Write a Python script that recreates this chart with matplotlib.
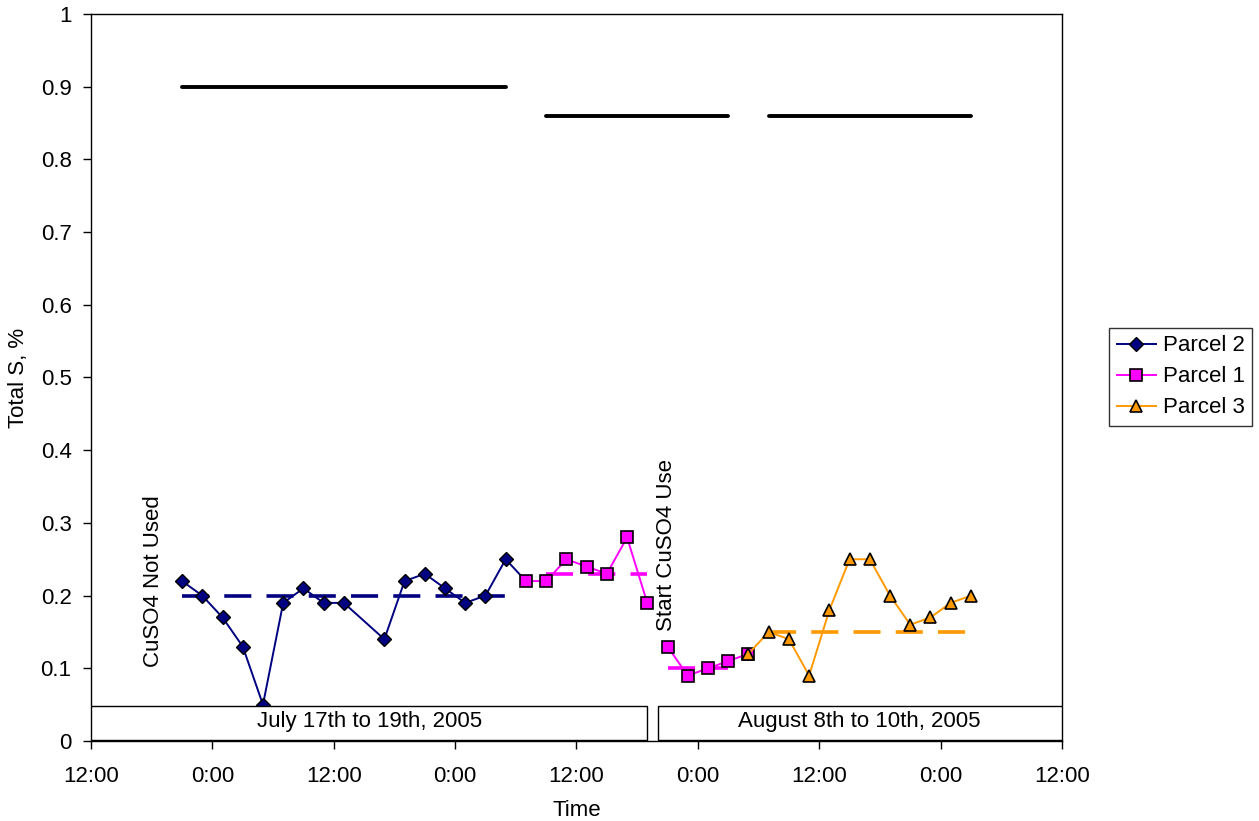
import numpy as np
import matplotlib
matplotlib.use("Agg")
import matplotlib.pyplot as plt
from matplotlib.patches import Rectangle

plt.rcParams['font.family'] = ['Liberation Sans', 'DejaVu Sans']

# hours counted from the first 12:00 on the axis
p2_hours = [9, 11, 13, 15, 17, 19, 21, 23, 25, 29, 31, 33, 35, 37, 39, 41, 43]
p2_vals = [0.22, 0.20, 0.17, 0.13, 0.05, 0.19, 0.21, 0.19, 0.19, 0.14,
           0.22, 0.23, 0.21, 0.19, 0.20, 0.25, 0.22]

p1_hours = [43, 45, 47, 49, 51, 53, 55, np.nan, 57, 59, 61, 63, 65]
p1_vals = [0.22, 0.22, 0.25, 0.24, 0.23, 0.28, 0.19, np.nan,
           0.13, 0.09, 0.10, 0.11, 0.12]

p3_hours = [65, 67, 69, 71, 73, 75, 77, 79, 81, 83, 85, 87]
p3_vals = [0.12, 0.15, 0.14, 0.09, 0.18, 0.25, 0.25, 0.20, 0.16, 0.17, 0.19, 0.20]

# mean lines (start, end, value)
p2_mean = (9, 41, 0.20)
p1_means = [(45, 55, 0.23), (57, 63, 0.10)]
p3_mean = (67, 87, 0.15)
# limit lines
limits = [(9, 41, 0.90), (45, 63, 0.86), (67, 87, 0.86)]

tick_hours = list(range(0, 97, 12))
tick_labels = ["12:00", "0:00"] * 4 + ["12:00"]

navy = "#000080"
magenta = "#FF00FF"
orange = "#FF9900"

fig = plt.figure(figsize=(12.59, 8.21), dpi=100)
ax = fig.add_axes([0.0723, 0.0974, 0.7712, 0.8856])

for x0, x1, v in limits:
    ax.plot([x0, x1], [v, v], color="black", lw=2.8, solid_capstyle="round")

ax.plot([p2_mean[0], p2_mean[1]], [p2_mean[2]] * 2, color=navy, lw=2.6,
        linestyle=(0, (7.5, 4.2)))
for x0, x1, v in p1_means:
    ax.plot([x0, x1], [v, v], color=magenta, lw=2.6, linestyle=(0, (7.5, 4.2)))
ax.plot([p3_mean[0], p3_mean[1]], [p3_mean[2]] * 2, color=orange, lw=2.6,
        linestyle=(0, (7.5, 4.2)))

ax.plot(p2_hours, p2_vals, color=navy, lw=1.4, marker="D", ms=7,
        mfc=navy, mec="black", mew=1.0, label="Parcel 2", zorder=4,
        markevery=list(range(len(p2_hours) - 1)))
ax.plot(p1_hours, p1_vals, color=magenta, lw=1.4, marker="s", ms=8,
        mfc=magenta, mec="black", mew=1.2, label="Parcel 1", zorder=4)
ax.plot(p3_hours, p3_vals, color=orange, lw=1.4, marker="^", ms=8.5,
        mfc=orange, mec="black", mew=1.2, label="Parcel 3", zorder=4)

# date boxes
ax.add_patch(Rectangle((0, 0.0015), 55, 0.047, facecolor="white",
                       edgecolor="black", lw=1.0, zorder=5))
ax.text(27.5, 0.027, "July 17th to 19th, 2005", ha="center", va="center",
        fontsize=16, zorder=6)
ax.add_patch(Rectangle((56.1, 0.0015), 39.9, 0.047, facecolor="white",
                       edgecolor="black", lw=1.0, zorder=5))
ax.text(76, 0.027, "August 8th to 10th, 2005", ha="center", va="center",
        fontsize=16, zorder=6)

ax.text(6.2, 0.22, "CuSO4 Not Used", rotation=90, ha="center", va="center",
        fontsize=16)
ax.text(56.9, 0.27, "Start CuSO4 Use", rotation=90, ha="center", va="center",
        fontsize=16)

ax.set_xlim(0, 96)
ax.set_ylim(0, 1)
ax.set_xticks(tick_hours)
ax.set_xticklabels(tick_labels)
ax.set_yticks(np.arange(0, 1.01, 0.1))
ax.set_yticklabels(["0"] + ["%.1f" % v for v in np.arange(0.1, 0.95, 0.1)] + ["1"])
ax.tick_params(direction="out", length=6, width=1, labelsize=16)
ax.tick_params(axis="x", pad=12)
ax.tick_params(axis="y", pad=8)
for s in ax.spines.values():
    s.set_linewidth(1.0)

ax.set_xlabel("Time", fontsize=16, labelpad=9)
ax.set_ylabel("Total S, %", fontsize=16, labelpad=8)

leg = fig.legend(loc="center left", bbox_to_anchor=(0.881, 0.541),
                 fontsize=16, frameon=True, fancybox=False, edgecolor="black",
                 handlelength=1.75, handletextpad=0.3, borderpad=0.35,
                 labelspacing=0.45, borderaxespad=0)
leg.get_frame().set_linewidth(1.0)

fig.savefig("out.png", dpi=100)
